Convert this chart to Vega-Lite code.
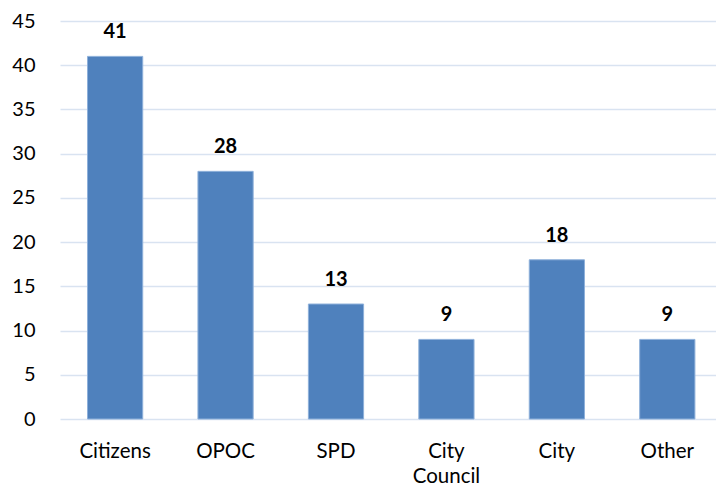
{
  "$schema": "https://vega.github.io/schema/vega-lite/v6.json",
  "autosize": "none",
  "width": 656,
  "height": 398,
  "padding": {"left": 60, "top": 21, "right": 0, "bottom": 68},
  "background": "white",
  "data": {"values": [
    {"category": "Citizens", "count": 41},
    {"category": "OPOC", "count": 28},
    {"category": "SPD", "count": 13},
    {"category": "City Council", "count": 9},
    {"category": "City", "count": 18},
    {"category": "Other", "count": 9}
  ]},
  "encoding": {
    "x": {
      "field": "category", "type": "nominal", "sort": null,
      "scale": {"paddingInner": 0.5, "paddingOuter": 0.22, "align": 0.566},
      "axis": {
        "title": null, "labelAngle": 0, "ticks": false, "tickSize": 0, "domain": false,
        "labelFont": "Lato", "labelFontSize": 20.5, "labelColor": "#000000",
        "labelBaseline": "alphabetic", "labelPadding": 38, "labelLineHeight": 25,
        "labelExpr": "datum.label == 'City Council' ? ['City', 'Council'] : datum.label"
      }
    },
    "y": {
      "field": "count", "type": "quantitative",
      "scale": {"domain": [0, 45], "nice": false},
      "axis": {
        "title": null, "values": [0, 5, 10, 15, 20, 25, 30, 35, 40, 45],
        "ticks": false, "domain": false, "grid": true,
        "gridColor": "#d9e3f1", "gridWidth": 1.5,
        "labelFont": "Lato", "labelFontSize": 20, "labelColor": "#000000",
        "labelPadding": 25
      }
    }
  },
  "layer": [
    {"mark": {"type": "bar", "color": "#4f81bd", "stroke": "#8eb0da", "strokeWidth": 1}},
    {"mark": {"type": "text", "font": "Lato", "fontSize": 20, "fontWeight": "bold", "color": "#000000", "baseline": "alphabetic", "dy": -18},
     "encoding": {"text": {"field": "count", "type": "quantitative"}}}
  ],
  "config": {"view": {"stroke": null}}
}
